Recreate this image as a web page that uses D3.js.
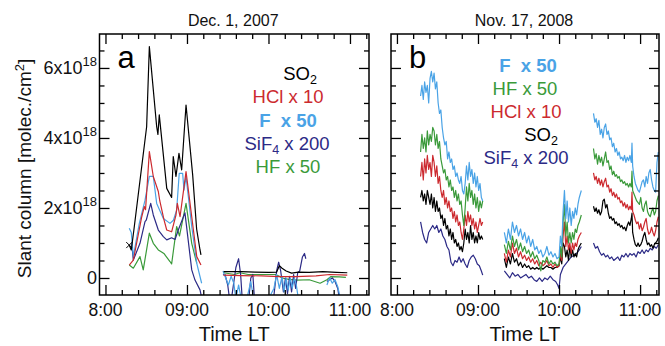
<!DOCTYPE html>
<html><head><meta charset="utf-8">
<script src="https://cdn.jsdelivr.net/npm/d3@7"></script>
<style>
html,body{margin:0;padding:0;background:#fff;}
svg{display:block;font-family:"Liberation Sans",Arial,Helvetica,sans-serif;}
</style></head>
<body>
<svg id="chart" width="665" height="346"></svg>
<script>
// ---------- DATA (time = minutes after 08:00 LT, value = 1e18 molec/cm2) ----------
const panelTitles = ["Dec. 1, 2007", "Nov. 17, 2008"];
const panelLetters = ["a", "b"];
const xTickTimes = [0, 60, 120, 180];
const xTickLabels = ["8:00", "09:00", "10:00", "11:00"];
const yTickValues = [0, 2, 4, 6];
const yTickLabels = [["0", ""], ["2x10", "18"], ["4x10", "18"], ["6x10", "18"]];

// Panel a (Dec. 1, 2007); null separates measurement periods
const aSO2 = [[17.5,0.94],[19,0.8],[21,1.4],[30.3,4.32],[32.3,6.61],[37.7,4.32],[38.6,4.1],[39.6,4.66],[45.1,2.56],[48.7,2.3],[49.9,3.47],[51.9,2.9],[54.1,3.56],[56.1,3.09],[59.3,4.94],[64.2,2.94],[67.1,1.4],[69.6,0.8],[70.3,0.66],
  null,[87,0.18],[100,0.18],[110,0.17],[120,0.16],[126,0.17],[128,0.35],[130,0.28],[133,0.2],[137,0.14],[142,0.17],[150,0.16],[160,0.18],[170,0.16],[178,0.15]];
const aHCl = [[17.5,0.37],[20.5,0.51],[26.7,1.75],[28.6,2.04],[29.5,1.95],[32.3,3.61],[35.2,2.9],[38.9,2.47],[40,2.2],[43.1,1.66],[45.1,1.37],[48.7,1.32],[51.9,1.8],[52.9,2.13],[54.9,1.75],[59.3,3.04],[63.5,1.75],[67.2,0.61],[70.3,0.37],
  null,[87,0.08],[100,0.07],[115,0.06],[128,0.04],[140,0.04],[155,0.06],[165,0.1],[178,0.08]];
const aF = [[17.5,1.42],[19,1.3],[20.5,0.61],[24.9,1.56],[29,2.2],[32.3,2.9],[35.2,2.9],[37.7,2.13],[42.6,1.7],[47.5,1.56],[50,1.65],[52.4,1.94],[54.3,2.99],[56.8,2.99],[57.8,2.51],[59.3,2.9],[63.5,1.47],[67.2,0.42],[70.8,-0.15],
  null,[86.5,0.2],[88.5,0.0],[90.5,-0.2],[92.5,0.05],[94.5,-0.15],[96,-0.6],[98,-0.2],[100,-0.6],[104,-0.6],[107,-0.1],[109,-0.6],[120,-0.6],[124,-0.3],[126,0.1],[128,-0.3],[130,0.05],[131.5,-0.4],[133,0.0],[134.5,-0.35],[136,0.0],[137.5,-0.3],[139,0.0],[140.5,-0.2],[142,-0.6],
  null,[163,-0.2],[165,0.0],[167,-0.15],[169,-0.05],[171,-0.25],[173,-0.6]];
const aSiF4 = [[19.3,0.99],[20.5,0.51],[25.4,0.99],[29.1,1.61],[30,1.65],[33.3,2.13],[35.2,1.8],[38.9,1.37],[42.6,1.18],[45.1,1.09],[48.7,1.15],[51.2,1.1],[53.6,1.37],[58.5,1.86],[63.5,0.23],[65.9,-0.06],[69.6,-0.34],[71,-0.6],
  null,[86.5,0.09],[88,0.1],[90,-0.2],[92,-0.8],[96,0.3],[98,0.55],[99.5,0.1],[101,-0.8],[105,-0.8],[107,0.0],[108.5,0.1],[110,-0.8],[118,-0.8],[124,-0.5],[126,0.2],[127.5,0.45],[129,0.2],[131,-0.4],[132.5,0.0],[134,-0.45],[135.5,0.05],[137,-0.4],[138.5,0.1],[140,-0.3],[141.5,0.15],[143,0.2],[145,0.6],[146.5,0.7],[147.5,0.55],
  null,[163,-0.1],[165,-0.05],[167,0.0],[169,-0.1],[171,-0.3],[173,-0.8]];
const aHF = [[17.5,0.37],[20.5,0.28],[25.4,0.61],[27.8,0.23],[32.3,1.28],[35.2,0.99],[38.9,0.8],[41,0.75],[43,0.7],[47.5,0.47],[48.7,0.4],[52.4,1.47],[54.5,1.2],[59.3,2.13],[63.5,0.99],[67.2,0.42],
  null,[87,0.15],[95,0.1],[99,0.15],[105,0.1],[115,0.1],[125,0.1],[128,0.05],[130,0.0],[135,-0.04],[141,-0.06],[150,-0.05],[158,-0.15],[163,-0.05],[166,0.04],[172,0.03],[177,0.02]];

// Panel b (Nov. 17, 2008)
const bF = [[17.5,5.2],[18.5,5.5],[19.5,5.1],[20.5,5.6],[21.5,5.3],[22.5,5.5],[23.5,5.0],[24.5,5.7],[25.5,5.9],[26.5,5.6],[27.5,5.85],[28.5,5.4],[29.5,5.6],[30.5,5.0],[31.5,4.7],[32.5,4.8],[33.5,4.3],[34.5,4.0],[35.5,3.8],[36.5,3.9],[37.5,3.4],[38.5,3.6],[39.5,3.3],[40.5,3.4],[41.5,3.1],[42.5,3.2],[43.5,2.9],[44.5,3.0],[45.5,2.8],[46.5,2.7],[47.5,2.9],[48.5,2.5],[49.5,2.4],[50.5,2.7],[51.5,3.2],[52.5,2.8],[53.5,3.3],[54.5,2.9],[55.5,3.1],[56.5,2.7],[57.5,3.0],[58.5,2.6],[59.5,2.9],[60.5,2.5],[61.5,2.7],[62.5,2.3],[63.5,2.2],
  null,[79.5,1.3],[81,1.0],[82.5,1.4],[84,1.1],[85.5,1.6],[87,1.3],[88.5,1.5],[90,1.2],[91.5,1.4],[93,1.1],[94.5,1.3],[96,1.0],[97.5,1.2],[99,0.9],[100.5,1.1],[102,0.8],[103.5,0.9],[105,0.7],[106.5,0.8],[108,0.6],[109.5,0.7],[111,0.9],[112.5,0.65],[114,0.75],[115.5,0.6],[117,0.7],[118.5,0.55],[120,0.6],[121,1.2],[122,0.9],[123,1.9],[124,2.5],[125,1.7],[126,2.2],[127,1.6],[128,2.0],[129,1.5],[130,1.9],[131,1.7],[132,2.0],[133,1.8],[134,2.1],[135,2.3],[136.5,2.5],
  null,[145.5,4.7],[146.5,4.45],[147.5,4.55],[148.5,4.3],[149.5,4.5],[150.5,4.1],[151.5,4.25],[152.5,4.0],[153.5,4.3],[154.5,4.4],[155.5,4.1],[156.5,4.2],[157.5,3.95],[158.5,4.0],[159.5,3.75],[160.5,3.85],[161.5,3.6],[162.5,3.7],[163.5,3.5],[164.5,3.6],[165.5,3.4],[166.5,3.45],[167.5,3.35],[168.5,3.5],[169.5,3.3],[170.5,3.45],[171.5,3.35],[172.5,3.5],[173.5,3.3],[174,3.85],[174.5,3.2],[175.5,2.9],[176.5,2.7],[177.5,2.6],[178.5,2.5],[179.5,2.45],[180.5,2.6],[181.5,2.75],[182.5,2.8],[183.5,2.6],[184.5,2.9],[185.5,2.7],[186.5,3.0],[187.5,3.1],[188.5,2.8],[189.5,2.6],[190.5,2.5],[191.5,2.45],[192.5,3.3],[193.5,3.6]];
const bHF = [[17.5,3.6],[18.5,4.1],[19.5,3.7],[20.5,4.0],[21.5,3.6],[22.5,4.2],[23.5,3.8],[24.5,4.1],[25.5,3.9],[26.5,4.3],[27.5,4.2],[28.5,3.8],[29.5,4.1],[30.5,3.7],[31.5,3.9],[32.5,3.4],[33.5,3.2],[34.5,3.0],[35.5,3.1],[36.5,2.8],[37.5,2.9],[38.5,2.6],[39.5,2.8],[40.5,2.5],[41.5,2.6],[42.5,2.3],[43.5,2.5],[44.5,2.2],[45.5,2.4],[46.5,2.1],[47.5,2.2],[48.5,1.8],[49.5,1.5],[50.5,2.0],[51.5,2.6],[52.5,2.2],[53.5,2.7],[54.5,2.3],[55.5,2.5],[56.5,2.1],[57.5,2.4],[58.5,2.0],[59.5,2.3],[60.5,1.9],[61.5,2.2],[62.5,2.0],[63.5,2.2],
  null,[79.5,0.95],[81,0.7],[82.5,1.05],[84,0.8],[85.5,1.2],[87,0.9],[88.5,1.1],[90,0.8],[91.5,1.0],[93,0.75],[94.5,0.9],[96,0.7],[97.5,0.8],[99,0.6],[100.5,0.75],[102,0.55],[103.5,0.65],[105,0.5],[106.5,0.2],[108,0.5],[109.5,0.45],[111,0.6],[112.5,0.4],[114,0.5],[115.5,0.4],[117,0.45],[118.5,0.35],[120,0.4],[121,0.9],[122,0.6],[123,1.6],[124,2.1],[125,1.2],[126,1.6],[127,1.0],[128,1.3],[129,1.0],[130,1.3],[131,1.1],[132,1.4],[133,1.3],[134,1.5],[135,1.6],[136.5,1.8],
  null,[145.5,3.7],[146.5,3.4],[147.5,3.55],[148.5,3.25],[149.5,3.5],[150.5,3.3],[151.5,3.45],[152.5,3.2],[153.5,3.4],[154.5,3.6],[155.5,3.3],[156.5,3.35],[157.5,3.1],[158.5,3.2],[159.5,2.95],[160.5,3.05],[161.5,2.9],[162.5,2.95],[163.5,2.85],[164.5,2.9],[165.5,2.75],[166.5,2.8],[167.5,2.7],[168.5,2.75],[169.5,2.65],[170.5,2.7],[171.5,2.6],[172.5,2.7],[173.5,2.6],[174,3.05],[174.5,2.5],[175.5,2.4],[176.5,2.3],[177.5,2.2],[178.5,2.15],[179.5,2.1],[180.5,2.3],[181.5,2.0],[182.5,1.9],[183.5,2.1],[184.5,2.2],[185.5,1.9],[186.5,1.8],[187.5,1.75],[188.5,1.9],[189.5,2.0],[190.5,1.8],[191.5,1.9],[192.5,2.2],[193.5,2.35]];
const bHCl = [[17.5,2.9],[18.5,3.3],[19.5,2.8],[20.5,3.4],[21.5,3.0],[22.5,3.5],[23.5,3.1],[24.5,3.3],[25.5,2.9],[26.5,3.5],[27.5,3.3],[28.5,2.9],[29.5,3.2],[30.5,2.7],[31.5,2.9],[32.5,2.5],[33.5,2.3],[34.5,2.5],[35.5,2.1],[36.5,2.3],[37.5,2.0],[38.5,2.2],[39.5,1.9],[40.5,2.0],[41.5,1.7],[42.5,1.9],[43.5,1.6],[44.5,1.8],[45.5,1.5],[46.5,1.6],[47.5,1.3],[48.5,1.1],[49.5,1.4],[50.5,1.8],[51.5,1.5],[52.5,1.9],[53.5,1.6],[54.5,1.8],[55.5,1.5],[56.5,1.7],[57.5,1.4],[58.5,1.6],[59.5,1.3],[60.5,1.5],[61.5,1.7],[62.5,1.5],[63.5,1.6],
  null,[79.5,0.7],[81,0.45],[82.5,0.8],[84,0.6],[85.5,1.0],[87,0.7],[88.5,0.85],[90,0.6],[91.5,0.75],[93,0.55],[94.5,0.65],[96,0.5],[97.5,0.6],[99,0.45],[100.5,0.55],[102,0.4],[103.5,0.5],[105,0.35],[106.5,0.45],[108,0.35],[109.5,0.4],[111,0.5],[112.5,0.35],[114,0.4],[115.5,0.3],[117,0.4],[118.5,0.3],[120,0.35],[121,0.7],[122,0.5],[123,1.2],[124,1.6],[125,0.9],[126,1.2],[127,0.8],[128,1.0],[129,0.7],[130,1.0],[131,0.8],[132,1.0],[133,0.9],[134,1.1],[135,1.2],[136.5,1.3],
  null,[145.5,3.0],[146.5,2.8],[147.5,2.9],[148.5,2.7],[149.5,2.85],[150.5,2.65],[151.5,2.8],[152.5,2.6],[153.5,2.75],[154.5,2.85],[155.5,2.6],[156.5,2.65],[157.5,2.45],[158.5,2.55],[159.5,2.35],[160.5,2.45],[161.5,2.3],[162.5,2.4],[163.5,2.25],[164.5,2.3],[165.5,2.15],[166.5,2.2],[167.5,2.05],[168.5,2.15],[169.5,2.0],[170.5,2.1],[171.5,1.95],[172.5,2.05],[173.5,1.95],[174,2.45],[174.5,1.9],[175.5,1.8],[176.5,1.65],[177.5,1.55],[178.5,1.6],[179.5,1.4],[180.5,1.55],[181.5,1.35],[182.5,1.45],[183.5,1.6],[184.5,1.7],[185.5,1.4],[186.5,1.25],[187.5,1.3],[188.5,1.45],[189.5,1.3],[190.5,1.2],[191.5,1.35],[192.5,1.6],[193.5,1.75]];
const bSO2 = [[17.5,2.3],[18.5,2.5],[19.5,2.2],[20.5,2.4],[21.5,2.1],[22.5,2.5],[23.5,2.3],[24.5,2.1],[25.5,2.4],[26.5,2.0],[27.5,2.3],[28.5,1.9],[29.5,2.2],[30.5,1.9],[31.5,2.0],[32.5,1.7],[33.5,1.8],[34.5,1.5],[35.5,1.7],[36.5,1.4],[37.5,1.5],[38.5,1.2],[39.5,1.4],[40.5,1.1],[41.5,1.3],[42.5,1.0],[43.5,1.1],[44.5,0.9],[45.5,1.0],[46.5,0.8],[47.5,0.9],[48.5,0.75],[49.5,1.0],[50.5,1.4],[51.5,1.1],[52.5,1.3],[53.5,1.0],[54.5,1.5],[55.5,1.1],[56.5,1.3],[57.5,1.0],[58.5,1.2],[59.5,1.0],[60.5,1.3],[61.5,1.1],[62.5,1.2],[63.5,1.1],
  null,[79.5,0.55],[81,0.3],[82.5,0.6],[84,0.4],[85.5,0.7],[87,0.45],[88.5,0.55],[90,0.35],[91.5,0.45],[93,0.3],[94.5,0.4],[96,0.3],[97.5,0.35],[99,0.25],[100.5,0.3],[102,0.25],[103.5,0.3],[105,0.25],[106.5,0.3],[108,0.25],[109.5,0.3],[111,0.35],[112.5,0.3],[114,0.3],[115.5,0.25],[117,0.3],[118.5,0.3],[120,0.35],[121,0.6],[122,0.4],[123,1.0],[124,0.9],[125,0.6],[126,0.8],[127,0.5],[128,0.9],[129,0.6],[130,0.8],[131,0.6],[132,0.7],[133,0.6],[134,0.8],[135,0.9],[136.5,1.0],
  null,[145.5,2.05],[146.5,1.9],[147.5,2.0],[148.5,1.85],[149.5,1.95],[150.5,1.8],[151.5,1.9],[152.5,2.2],[153.5,2.25],[154.5,2.0],[155.5,2.1],[156.5,1.85],[157.5,1.7],[158.5,1.75],[159.5,1.65],[160.5,1.7],[161.5,1.55],[162.5,1.6],[163.5,1.5],[164.5,1.55],[165.5,1.45],[166.5,1.5],[167.5,1.4],[168.5,1.45],[169.5,1.35],[170.5,1.5],[171.5,1.6],[172.5,1.5],[173.5,1.7],[174,1.85],[174.5,1.3],[175.5,1.1],[176.5,0.95],[177.5,0.9],[178.5,1.0],[179.5,0.9],[180.5,0.95],[181.5,1.05],[182.5,1.2],[183.5,1.3],[184.5,1.1],[185.5,0.95],[186.5,1.0],[187.5,0.9],[188.5,0.95],[189.5,0.85],[190.5,0.95],[191.5,1.0],[192.5,1.05],[193.5,1.15]];
const bSiF4 = [[17.5,1.6],[19,1.3],[20.5,1.1],[22,1.0],[23.5,1.3],[25,1.4],[26.5,1.5],[28,1.4],[29.5,1.5],[31,1.3],[32.5,1.4],[34,1.2],[35.5,1.1],[37,0.9],[38.5,0.8],[40,0.45],[41.5,0.35],[43,0.5],[44.5,0.45],[46,0.6],[47.5,0.45],[49,0.55],[50.5,0.4],[52,0.3],[53.5,0.5],[55,0.6],[56.5,0.65],[58,0.55],[59.5,0.4],[61,0.35],[62.5,0.2],[63.5,0.08],
  null,[79.5,0.2],[81.5,0.1],[83.5,0.0],[85.5,0.15],[87.5,0.05],[89.5,0.1],[91.5,0.0],[93.5,0.05],[95.5,0.1],[97.5,0.0],[99.5,0.05],[101.5,-0.05],[103.5,-0.1],[105.5,0.0],[107.5,-0.1],[109.5,0.0],[111.5,-0.05],[113.5,0.05],[115.5,-0.05],[117.5,-0.1],[119,-0.2],[120,-0.3],[121,0.1],[123,0.3],[125,0.4],[127,0.5],[129,0.6],[131,0.65],[133,0.7],[135,0.8],[136.5,0.9],
  null,[145.5,1.0],[147,0.85],[148.5,0.9],[150,0.75],[151.5,0.65],[153,0.7],[154.5,0.6],[156,0.65],[157.5,0.55],[159,0.6],[160.5,0.5],[162,0.55],[163.5,0.6],[165,0.5],[166.5,0.65],[168,0.6],[169.5,0.7],[171,0.6],[172.5,0.7],[174,0.65],[175.5,0.7],[177,0.6],[178.5,0.75],[180,0.7],[181.5,0.8],[183,0.7],[184.5,0.8],[186,0.75],[187.5,0.85],[189,0.8],[190.5,0.9],[192,0.85],[193.5,0.95]];

// Legends: [main text, subscript, rest, colour key, bold]
const legendA = [["SO","2","","so2",false],["HCl x 10","","","hcl",false],["F  x 50","","","f",true],["SiF","4"," x 200","sif4",false],["HF x 50","","","hf",false]];
const legendB = [["F  x 50","","","f",true],["HF x 50","","","hf",false],["HCl x 10","","","hcl",false],["SO","2","","so2",false],["SiF","4"," x 200","sif4",false]];

const colors = {so2:"#000000", hcl:"#cc2a2f", f:"#4aa3e6", sif4:"#2c2a86", hf:"#3a9a3a"};

// ---------- LAYOUT ----------
(function draw() {
const svg = d3.select("#chart");
const xDomain = [-4.4, 194];
const yDomain = [-0.486, 6.97];
const yTop = 34, yBottom = 295;
const panels = [
  {x0: 99.5, x1: 369, series: [["hf",aHF],["sif4",aSiF4],["f",aF],["hcl",aHCl],["so2",aSO2]], legend: legendA,
   legendX: [300,288,288,287,288], legendY: [80,103,127,150,173]},
  {x0: 391, x1: 659, series: [["sif4",bSiF4],["so2",bSO2],["hcl",bHCl],["hf",bHF],["f",bF]], legend: legendB,
   legendX: [528,525,526,541,526], legendY: [72,95,118,141,164]}
];

const y = d3.scaleLinear().domain(yDomain).range([yBottom, yTop]);
const yMinor = d3.range(0, 7.0, 0.5);
const xMinor = d3.range(0, 193, 12);

panels.forEach((p, i) => {
  const x = d3.scaleLinear().domain(xDomain).range([p.x0, p.x1]);
  const g = svg.append("g");
  const clipId = "clip" + i;
  svg.append("defs").append("clipPath").attr("id", clipId)
    .append("rect").attr("x", p.x0).attr("y", yTop).attr("width", p.x1 - p.x0).attr("height", yBottom - yTop);

  const line = d3.line().defined(d => d !== null).x(d => x(d[0])).y(d => y(d[1]));
  const lg = g.append("g").attr("clip-path", `url(#${clipId})`);
  p.series.forEach(([key, data]) => {
    lg.append("path").attr("d", line(data)).attr("fill", "none")
      .attr("stroke", colors[key]).attr("stroke-width", 1.2).attr("stroke-linejoin", "round");
  });

  if (i === 0) {
    const s = aSO2[0];
    const cx = x(s[0]), cy = y(s[1]);
    g.append("path").attr("d", `M${cx-3},${cy-3}L${cx+3},${cy+3}M${cx-3},${cy+3}L${cx+3},${cy-3}`)
      .attr("stroke", "#000").attr("stroke-width", 1);
  }

  const styleAxis = sel => { sel.select(".domain").remove(); sel.selectAll("text").remove(); sel.selectAll("line").attr("stroke", "#000").attr("stroke-width", 1.3); };
  const yMin = yMinor.filter(v => !yTickValues.includes(v));
  const xMin = xMinor.filter(v => !xTickTimes.includes(v));
  g.append("g").attr("transform", `translate(${p.x0},0)`).call(d3.axisLeft(y).tickValues(yTickValues).tickSize(-10)).call(styleAxis);
  g.append("g").attr("transform", `translate(${p.x0},0)`).call(d3.axisLeft(y).tickValues(yMin).tickSize(-5)).call(styleAxis);
  g.append("g").attr("transform", `translate(${p.x1},0)`).call(d3.axisRight(y).tickValues(yTickValues).tickSize(-10)).call(styleAxis);
  g.append("g").attr("transform", `translate(${p.x1},0)`).call(d3.axisRight(y).tickValues(yMin).tickSize(-5)).call(styleAxis);
  g.append("g").attr("transform", `translate(0,${yBottom})`).call(d3.axisBottom(x).tickValues(xTickTimes).tickSize(-10)).call(styleAxis);
  g.append("g").attr("transform", `translate(0,${yBottom})`).call(d3.axisBottom(x).tickValues(xMin).tickSize(-5)).call(styleAxis);
  g.append("g").attr("transform", `translate(0,${yTop})`).call(d3.axisTop(x).tickValues(xTickTimes).tickSize(-10)).call(styleAxis);
  g.append("g").attr("transform", `translate(0,${yTop})`).call(d3.axisTop(x).tickValues(xMin).tickSize(-5)).call(styleAxis);

  g.append("rect").attr("x", p.x0).attr("y", yTop).attr("width", p.x1 - p.x0).attr("height", yBottom - yTop)
    .attr("fill", "none").attr("stroke", "#000").attr("stroke-width", 1.5);

  xTickTimes.forEach((t, k) => {
    g.append("text").attr("x", x(t)).attr("y", 316).attr("text-anchor", "middle")
      .attr("font-size", 17.5).attr("fill", "#111").text(xTickLabels[k]);
  });
  g.append("text").attr("x", (p.x0 + p.x1) / 2).attr("y", 341).attr("text-anchor", "middle")
    .attr("font-size", 20).attr("fill", "#111").text("Time LT");
  g.append("text").attr("x", (p.x0 + p.x1) / 2 - 1).attr("y", 26).attr("text-anchor", "middle")
    .attr("font-size", 16).attr("fill", "#111").text(panelTitles[i]);
  g.append("text").attr("x", p.x0 + 18).attr("y", 68).attr("font-size", 31).attr("fill", "#000").text(panelLetters[i]);

  p.legend.forEach((L, k) => {
    const t = g.append("text").attr("x", p.legendX[k]).attr("y", p.legendY[k]).attr("text-anchor", "middle")
      .attr("font-size", 18.5).attr("fill", colors[L[3]]).attr("font-weight", L[4] ? "bold" : "normal")
      .style("white-space", "pre");
    t.append("tspan").text(L[0]);
    if (L[1]) t.append("tspan").attr("font-size", 12.5).attr("dy", 3.5).text(L[1]);
    if (L[2]) t.append("tspan").attr("dy", -3.5).text(L[2]);
  });

  if (i === 0) {
    yTickValues.forEach((v, k) => {
      const t = g.append("text").attr("x", 97).attr("y", y(v) + 6).attr("text-anchor", "end")
        .attr("font-size", 18).attr("fill", "#111");
      t.append("tspan").text(yTickLabels[k][0]);
      if (yTickLabels[k][1]) t.append("tspan").attr("font-size", 13).attr("dy", -8).text(yTickLabels[k][1]);
    });
    const yt = svg.append("text").attr("transform", `translate(31,${(yTop + yBottom) / 2 + 4}) rotate(-90)`)
      .attr("text-anchor", "middle").attr("font-size", 19).attr("fill", "#111");
    yt.append("tspan").text("Slant column [molec./cm");
    yt.append("tspan").attr("font-size", 13).attr("dy", -7).text("2");
    yt.append("tspan").attr("dy", 7).text("]");
  }
});
})();
</script>
</body></html>
